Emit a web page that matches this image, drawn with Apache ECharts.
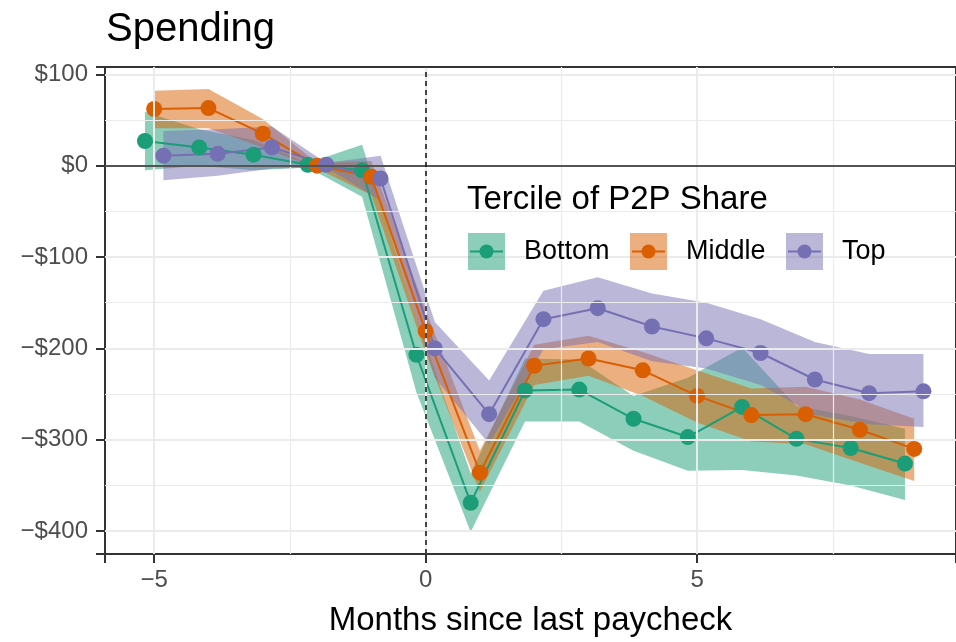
<!DOCTYPE html>
<html>
<head>
<meta charset="utf-8">
<script src="https://cdn.jsdelivr.net/npm/echarts@6/dist/echarts.min.js"></script>
<style>
  html, body { margin: 0; padding: 0; background: #fff; }
  #chart { width: 956px; height: 642px; }
</style>
</head>
<body>
<div id="chart"></div>
<script>
// months since last paycheck
var months = [-5, -4, -3, -2, -1, 0, 1, 2, 3, 4, 5, 6, 7, 8, 9];
var groupNames = ['Bottom', 'Middle', 'Top'];
var groupColors = ['#1B9E77', '#D95F02', '#7570B3'];
var groupFills = ['rgba(27,158,119,0.5)', 'rgba(217,95,2,0.5)', 'rgba(117,112,179,0.5)'];
var dodge = [-0.17, 0, 0.17];

var bottomMean = [27, 20, 12, 1, -5, -207, -369, -246, -245, -277, -297, -264, -299, -309, -326];
var bottomLow = [-5, 0, -5, -2, -34, -248, -401, -280, -280, -312, -334, -333, -339, -350, -366];
var bottomHigh = [59, 40, 28, 3, 23, -166, -337, -211, -212, -252, -232, -199, -263, -274, -288];

var middleMean = [62, 63, 35, 0, -12, -181, -336, -219, -211, -224, -252, -273, -272, -289, -310];
var middleLow = [41, 41, 20, -3, -32, -205, -357, -240, -230, -252, -281, -302, -305, -325, -345];
var middleHigh = [82, 84, 51, 3, 5, -158, -312, -196, -186, -204, -224, -244, -242, -256, -277];

var topMean = [11, 13, 20, 1, -14, -200, -272, -168, -156, -176, -189, -205, -234, -249, -247];
var topLow = [-16, -11, -3, -2, -38, -232, -305, -201, -193, -214, -222, -240, -273, -283, -286];
var topHigh = [38, 40, 43, 3, 11, -171, -235, -137, -122, -140, -150, -168, -193, -206, -206];

var xTicks = [-5, 0, 5];
var yTicks = [-400, -300, -200, -100, 0, 100];
var xMinor = [-2.5, 2.5, 7.5];
var yMinor = [-350, -250, -150, -50, 50];

var xMin = -5.906, xMax = 9.77;
var yMin = -425, yMax = 108;

var means = [bottomMean, middleMean, topMean];
var lows = [bottomLow, middleLow, topLow];
var highs = [bottomHigh, middleHigh, topHigh];

function minus(v) {
    return v < 0 ? '\u2212' + Math.abs(v) : String(v);
}

function gridLines(xs, ys) {
    return xs.map(function (v) { return { xAxis: v }; })
        .concat(ys.map(function (v) { return { yAxis: v }; }));
}

var chart = echarts.init(document.getElementById('chart'));
var series = [];

// grid lines (minor then major)
series.push({
    type: 'line',
    data: [],
    z: 1,
    silent: true,
    markLine: {
        silent: true,
        symbol: 'none',
        label: { show: false },
        lineStyle: { color: '#EBEBEB', width: 1.2, type: 'solid' },
        data: gridLines(xMinor, yMinor)
    }
});
series.push({
    type: 'line',
    data: [],
    z: 1,
    silent: true,
    markLine: {
        silent: true,
        symbol: 'none',
        label: { show: false },
        lineStyle: { color: '#EBEBEB', width: 2, type: 'solid' },
        data: gridLines(xTicks, yTicks)
    }
});

// ribbons
groupNames.forEach(function (name, g) {
    var pts = months.map(function (m, i) {
        return [m + dodge[g], lows[g][i], highs[g][i]];
    });
    series.push({
        type: 'custom',
        name: name + ' band',
        z: 2,
        silent: true,
        data: pts,
        encode: { x: 0, y: [1, 2] },
        renderItem: function (params, api) {
            if (params.dataIndex !== 0) return;
            var upper = pts.map(function (p) { return api.coord([p[0], p[2]]); });
            var lower = pts.map(function (p) { return api.coord([p[0], p[1]]); }).reverse();
            return {
                type: 'polygon',
                shape: { points: upper.concat(lower) },
                style: { fill: groupFills[g] }
            };
        }
    });
});

// reference lines at zero
series.push({
    type: 'line',
    data: [],
    z: 3,
    silent: true,
    markLine: {
        silent: true,
        symbol: 'none',
        label: { show: false },
        data: [
            { yAxis: 0, lineStyle: { color: '#222', width: 1.5, type: 'solid' } },
            { xAxis: 0, lineStyle: { color: '#111', width: 1.5, type: [5, 4] } }
        ]
    }
});

// lines and points
groupNames.forEach(function (name, g) {
    series.push({
        type: 'line',
        name: name,
        z: 4,
        symbol: 'circle',
        symbolSize: 16,
        showAllSymbol: true,
        lineStyle: { color: groupColors[g], width: 2 },
        itemStyle: { color: groupColors[g] },
        data: months.map(function (m, i) { return [m + dodge[g], means[g][i]]; })
    });
});

// legend drawn by hand to look like ggplot keys
var legendKeys = [
    { x: 468, label: 524 },
    { x: 630, label: 686 },
    { x: 786, label: 842 }
];
var graphics = [
    {
        type: 'text', left: 106, top: 10, z: 100,
        style: { text: 'Spending', font: '40px "Liberation Sans", Arial, sans-serif', fill: '#000' }
    },
    {
        type: 'text', left: 467, top: 183, z: 100,
        style: { text: 'Tercile of P2P Share', font: '33px "Liberation Sans", Arial, sans-serif', fill: '#000' }
    }
];
legendKeys.forEach(function (k, g) {
    graphics.push({ type: 'rect', z: 100, shape: { x: k.x, y: 233, width: 37, height: 37 }, style: { fill: groupFills[g] } });
    graphics.push({ type: 'line', z: 101, shape: { x1: k.x + 2, y1: 251.5, x2: k.x + 35, y2: 251.5 }, style: { stroke: groupColors[g], lineWidth: 2 } });
    graphics.push({ type: 'circle', z: 102, shape: { cx: k.x + 18.5, cy: 251.5, r: 7 }, style: { fill: groupColors[g] } });
    graphics.push({
        type: 'text', left: k.label, top: 238, z: 100,
        style: { text: groupNames[g], font: '27px "Liberation Sans", Arial, sans-serif', fill: '#000' }
    });
});

var option = {
    animation: false,
    backgroundColor: '#fff',
    grid: {
        left: 105, right: -2, top: 67, bottom: 85,
        show: true, borderColor: '#333', borderWidth: 2, backgroundColor: 'transparent'
    },
    xAxis: {
        type: 'value',
        min: xMin,
        max: xMax,
        splitNumber: 3,
        name: 'Months since last paycheck',
        nameLocation: 'middle',
        nameGap: 50,
        nameTextStyle: { fontSize: 33, color: '#000', fontFamily: 'Liberation Sans' },
        axisLine: { show: true, onZero: false, lineStyle: { color: '#333', width: 2 } },
        axisTick: { show: true, inside: false, length: 9, lineStyle: { color: '#333', width: 2 } },
        axisLabel: {
            customValues: xTicks, margin: 14, fontSize: 24, color: '#4D4D4D', fontFamily: 'Liberation Sans',
            formatter: function (v) { return minus(v); }
        },
        splitLine: { show: false }
    },
    yAxis: {
        type: 'value',
        min: yMin,
        max: yMax,
        splitNumber: 5,
        axisLine: { show: true, onZero: false, lineStyle: { color: '#333', width: 2 } },
        axisTick: { show: true, inside: false, length: 9, lineStyle: { color: '#333', width: 2 } },
        axisLabel: {
            customValues: yTicks, margin: 17, fontSize: 24, color: '#4D4D4D', fontFamily: 'Liberation Sans',
            formatter: function (v) { return v < 0 ? '\u2212$' + Math.abs(v) : '$' + v; }
        },
        splitLine: { show: false }
    },
    graphic: graphics,
    series: series
};
chart.setOption(option);
</script>
</body>
</html>
